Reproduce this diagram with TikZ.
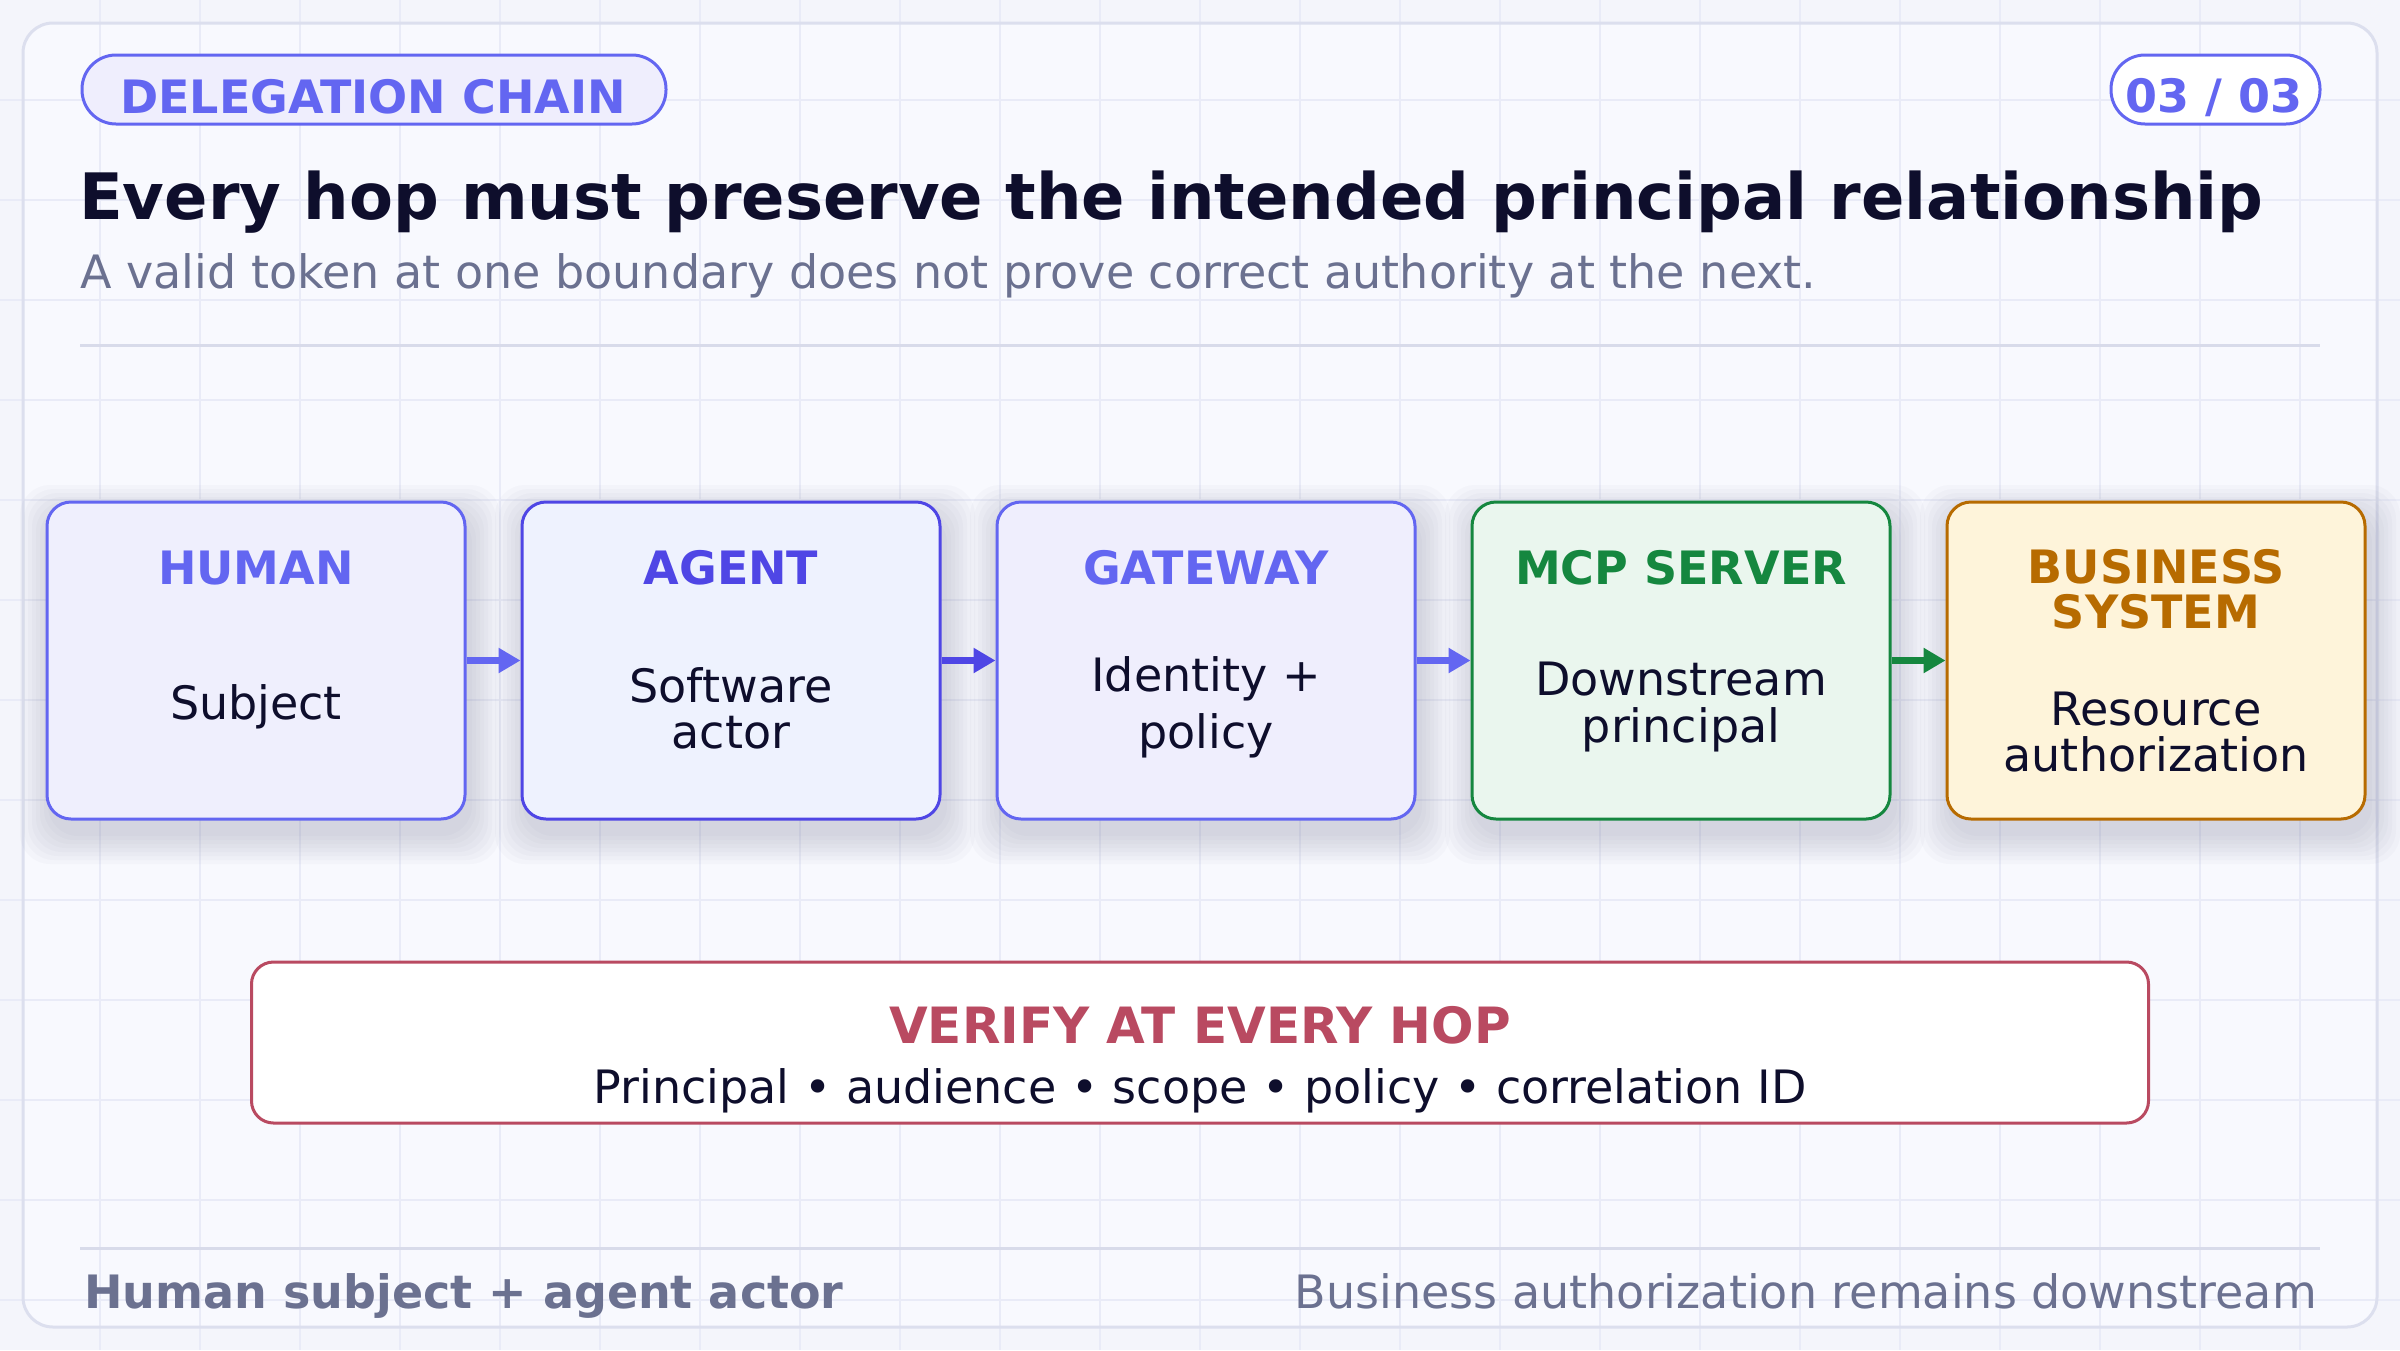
\documentclass[tikz,border=0pt]{standalone}
\usepackage{fontspec}
\setmainfont{DejaVu Sans}
\usetikzlibrary{arrows.meta}
\definecolor{bgc}{HTML}{F4F5FB}
\definecolor{cardfill}{HTML}{F8F9FE}
\definecolor{gridc}{HTML}{E9EBF7}
\definecolor{cardline}{HTML}{DCDFEE}
\definecolor{rulec}{HTML}{D8DBEA}
\definecolor{indigo}{HTML}{6366F1}
\definecolor{agentc}{HTML}{4F46E5}
\definecolor{greenc}{HTML}{15873F}
\definecolor{amberc}{HTML}{B76B00}
\definecolor{rosec}{HTML}{B94A61}
\definecolor{inkc}{HTML}{0E0E2C}
\definecolor{slatec}{HTML}{6B7190}
\definecolor{shadowc}{HTML}{3A3F6A}
\definecolor{pillfill}{HTML}{EFEEFD}
\definecolor{humanfill}{HTML}{EFEFFD}
\definecolor{agentfill}{HTML}{EEF2FE}
\definecolor{gatefill}{HTML}{EFEEFD}
\definecolor{mcpfill}{HTML}{EAF6EE}
\definecolor{bizfill}{HTML}{FEF4DA}
\newcommand{\fsz}[1]{\fontsize{#1}{#1}\selectfont}
\newcommand{\hopshadow}[2]{%
  \foreach \rr in {3,7,...,31} {
    \fill[shadowc, opacity=0.022, rounded corners=30pt]
      ({#1-209-\rr+4},{#2-158.5-\rr+14}) rectangle ({#1+209+\rr+4},{#2+158.5+\rr+14});
  }}
\tikzset{
  pill/.style={draw=indigo, line width=3pt, rounded corners=34pt, minimum height=69pt, inner sep=0pt},
  hopbox/.style={line width=3pt, rounded corners=24pt, minimum width=418pt, minimum height=317pt, inner sep=0pt},
  hoptitle/.style={anchor=base, inner sep=0pt, font=\bfseries\fsz{46}},
  hopbody/.style={anchor=base, inner sep=0pt, font=\fsz{46}, text=inkc},
  hoparrow/.style={line width=7pt, -{Triangle[length=22pt,width=24pt]}},
}
\begin{document}
\begin{tikzpicture}[x=1pt,y=-1pt]
\useasboundingbox (0,0) rectangle (2400,1350);
\fill[bgc] (0,0) rectangle (2400,1350);
\fill[cardfill, rounded corners=30pt] (23,23) rectangle (2377,1327);
\foreach \gx in {100,200,...,2300} \draw[gridc, line width=1.5pt] (\gx,0) -- (\gx,1350);
\foreach \gy in {100,200,...,1300} \draw[gridc, line width=1.5pt] (0,\gy) -- (2400,\gy);
\draw[cardline, line width=3pt, rounded corners=30pt] (23,23) rectangle (2377,1327);

% header
\node[pill, fill=pillfill, minimum width=584pt] (tagpill) at (374,89.5) {};
\node[anchor=base, inner sep=0pt, text=indigo, font=\bfseries\fsz{46}] (tag) at (373,113) {DELEGATION CHAIN};
\node[pill, fill=white, minimum width=209pt] (pagepill) at (2215.5,89.5) {};
\node[anchor=base, inner sep=0pt, text=indigo, font=\bfseries\fsz{46}] (page) at (2214,112) {03 / 03};
\node[anchor=base west, inner sep=0pt, text=inkc, font=\bfseries\fsz{64}] (title) at (79,219) {Every hop must preserve the intended principal relationship};
\node[anchor=base west, inner sep=0pt, text=slatec, font=\fsz{46}] (subtitle) at (80,288) {A valid token at one boundary does not prove correct authority at the next.};
\coordinate (r1a) at (80,345); \coordinate (r1b) at (2320,345);
\draw[rulec, line width=3pt] (r1a) -- (r1b);

% shadows
\foreach \cx in {256,731,1206,1681,2156} {\hopshadow{\cx}{660.5}}

% boxes
\node[hopbox, draw=indigo, fill=humanfill] (human) at (256,660.5) {};
\node[hopbox, draw=agentc, fill=agentfill] (agent) at (731,660.5) {};
\node[hopbox, draw=indigo, fill=gatefill] (gateway) at (1206,660.5) {};
\node[hopbox, draw=greenc, fill=mcpfill] (mcp) at (1681,660.5) {};
\node[hopbox, draw=amberc, fill=bizfill] (biz) at (2156,660.5) {};

\node[hoptitle, text=indigo] (humant) at (256,584) {HUMAN};
\node[hopbody] (humanb) at (256,719) {Subject};

\node[hoptitle, text=agentc] (agentt) at (731,584) {AGENT};
\node[hopbody] (agentb1) at (731,702) {Software};
\node[hopbody] (agentb2) at (731,748) {actor};

\node[hoptitle, text=indigo] (gatet) at (1206,584) {GATEWAY};
\node[hopbody] (gateb1) at (1206,691) {Identity +};
\node[hopbody] (gateb2) at (1206,748) {policy};

\node[hoptitle, text=greenc] (mcpt) at (1681,584) {MCP SERVER};
\node[hopbody] (mcpb1) at (1681,695) {Downstream};
\node[hopbody] (mcpb2) at (1681,742) {principal};

\node[hoptitle, text=amberc] (bizt1) at (2156,583) {BUSINESS};
\node[hoptitle, text=amberc] (bizt2) at (2156,628) {SYSTEM};
\node[hopbody] (bizb1) at (2156,725) {Resource};
\node[hopbody] (bizb2) at (2156,771) {authorization};

\draw[hoparrow, indigo] (human.east) -- (agent.west);
\draw[hoparrow, agentc] (agent.east) -- (gateway.west);
\draw[hoparrow, indigo] (gateway.east) -- (mcp.west);
\draw[hoparrow, greenc] (mcp.east) -- (biz.west);

% verify box
\node[draw=rosec, fill=white, line width=3pt, rounded corners=22pt, minimum width=1897pt, minimum height=161pt, inner sep=0pt] (verify) at (1200,1042.5) {};
\node[anchor=base, inner sep=0pt, text=rosec, font=\bfseries\fsz{50}] (verifyt) at (1200,1043) {VERIFY AT EVERY HOP};
\node[anchor=base, inner sep=0pt, text=inkc, font=\fsz{46}] (verifyb) at (1200,1103) {Principal • audience • scope • policy • correlation ID};

% footer
\coordinate (r2a) at (80,1248); \coordinate (r2b) at (2320,1248);
\draw[rulec, line width=3pt] (r2a) -- (r2b);
\node[anchor=base west, inner sep=0pt, text=slatec, font=\bfseries\fsz{46}] (footl) at (84,1308) {Human subject + agent actor};
\node[anchor=base east, inner sep=0pt, text=slatec, font=\fsz{46}] (footr) at (2317,1308) {Business authorization remains downstream};
\end{tikzpicture}
\end{document}
